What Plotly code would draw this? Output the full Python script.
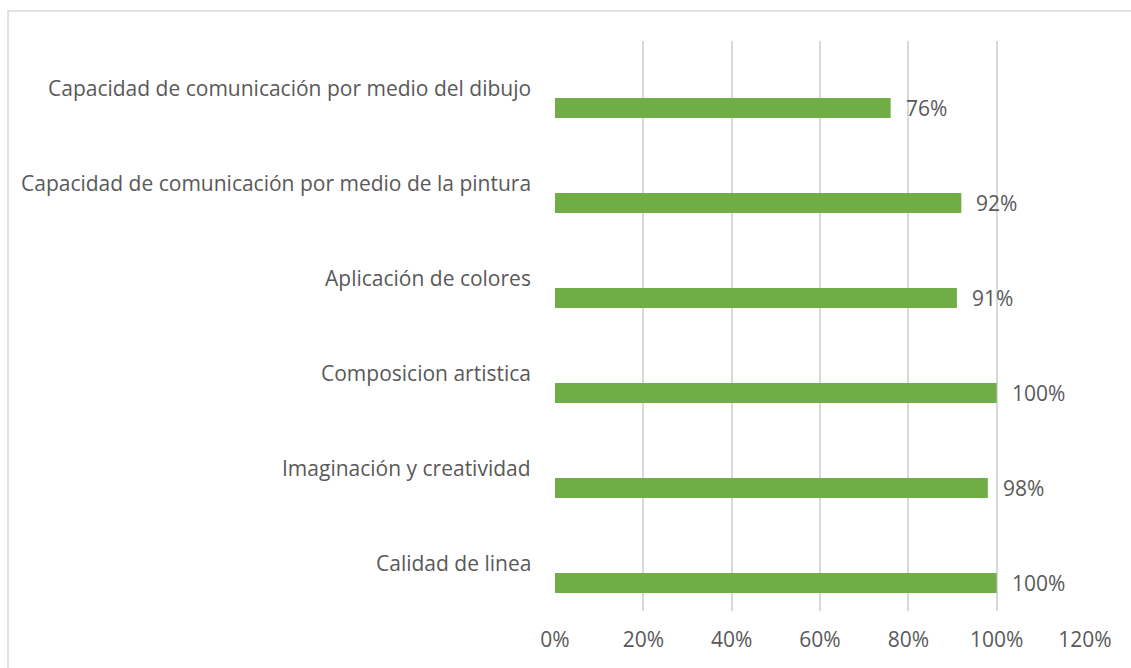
import plotly.graph_objects as go

categories = [
    "Calidad de linea",
    "Imaginación y creatividad",
    "Composicion artistica",
    "Aplicación de colores",
    "Capacidad de comunicación por medio de la pintura",
    "Capacidad de comunicación por medio del dibujo",
]
values = [1.00, 0.98, 1.00, 0.91, 0.92, 0.76]
value_labels = ["100%", "98%", "100%", "91%", "92%", "76%"]
x_ticks = [0, 0.2, 0.4, 0.6, 0.8, 1.0, 1.2]
x_ticktext = ["0%", "20%", "40%", "60%", "80%", "100%", "120%"]

FONT = "Open Sans"
FSIZE = 21
GRAY = "#595959"
GREEN = "#70AD47"

positions = list(range(len(categories)))

fig = go.Figure()
fig.add_trace(go.Bar(
    x=values, y=positions, orientation="h",
    marker=dict(color=GREEN, line=dict(width=0)),
    width=0.21, showlegend=False, hoverinfo="skip",
))

for p, v, t in zip(positions, values, value_labels):
    fig.add_annotation(x=v, y=p, text=t, showarrow=False, xanchor="left",
                       yanchor="middle", xshift=13,
                       font=dict(family=FONT, size=FSIZE, color=GRAY))

for p, c in zip(positions, categories):
    fig.add_annotation(x=0, xref="paper", y=p + 0.21, text=c, showarrow=False,
                       xanchor="right", yanchor="middle", xshift=-22,
                       font=dict(family=FONT, size=FSIZE, color=GRAY))

fig.add_shape(type="rect", xref="paper", yref="paper",
              x0=-1.032, x1=1.1, y0=-0.12, y1=1.0526,
              line=dict(color="#D9D9D9", width=1.5), fillcolor="rgba(0,0,0,0)", layer="below")

fig.update_layout(
    width=1131, height=668,
    margin=dict(l=555, r=46, t=41, b=57, autoexpand=False),
    paper_bgcolor="white", plot_bgcolor="white",
    font=dict(family=FONT, size=FSIZE, color=GRAY),
    xaxis=dict(range=[0, 1.2], tickvals=x_ticks, ticktext=x_ticktext,
               showgrid=True, gridcolor="#D9D9D9", gridwidth=1.5,
               zeroline=False, showline=False, ticks="",
               ticklabelstandoff=14,
               tickfont=dict(family=FONT, size=FSIZE, color=GRAY)),
    yaxis=dict(range=[-0.295, 5.705], showticklabels=False, showgrid=False,
               zeroline=False, showline=False, ticks=""),
)

fig.write_html("out.html", config={"displayModeBar": False},
               post_script="document.body.style.margin='0';document.body.style.overflow='hidden';")
